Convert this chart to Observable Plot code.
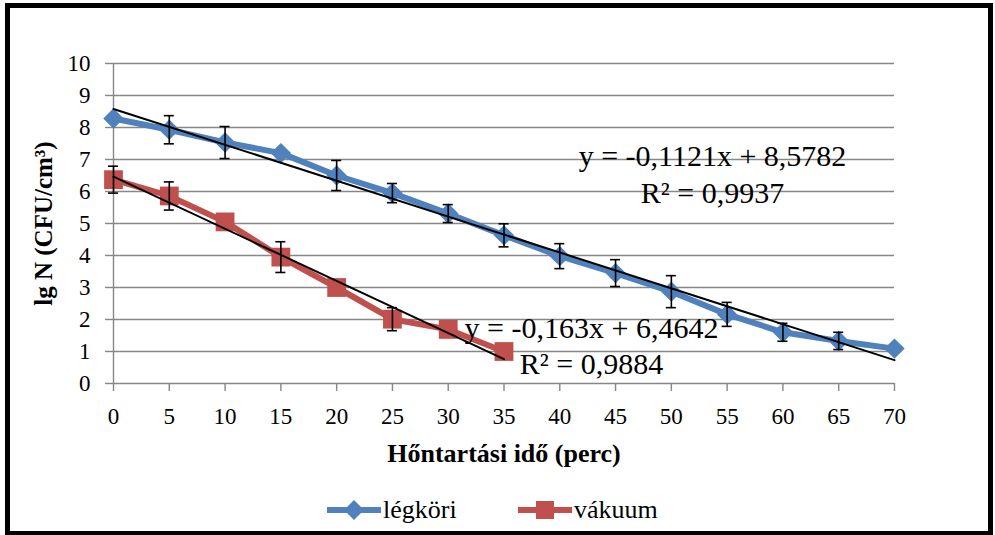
<!DOCTYPE html>
<html>
<head>
<meta charset="utf-8">
<script src="https://cdn.jsdelivr.net/npm/d3@7"></script>
<script src="https://cdn.jsdelivr.net/npm/@observablehq/plot@0.6"></script>
<style>
  html, body { margin: 0; padding: 0; background: #fff; }
  #wrap { position: relative; width: 995px; height: 535px; overflow: hidden; font-family: "Liberation Serif", serif; }
  #chart { position: absolute; left: 0; top: 0; }
  #chart svg, #chart svg text { font-family: "Liberation Serif", serif; }
  #frame { position: absolute; left: 5px; top: 3px; width: 988px; height: 532px; box-sizing: border-box;
           border: 5px solid #000; border-bottom-width: 4px; pointer-events: none; }
  #inner { position: absolute; left: 10px; top: 8px; width: 979px; height: 524px; box-sizing: border-box;
           border-right: 1px solid #b0b0b0; border-bottom: 1px solid #b0b0b0; pointer-events: none; }
  #legend { position: absolute; left: 0; top: 496px; width: 995px; height: 28px; }
  .item { position: absolute; top: 0; height: 28px; display: flex; align-items: center; }
  .item span { font-family: "Liberation Serif", serif; font-size: 26px; color: #000; margin-left: 2px; line-height: 28px; }
</style>
</head>
<body>
<div id="wrap">
  <div id="chart"></div>
  <div id="legend"></div>
  <div id="inner"></div>
  <div id="frame"></div>
</div>
<script>
// ---- data ----
const seriesNames = ["légköri", "vákuum"];
const seriesColors = ["#4F81BD", "#C0504D"];

const legkoriTimes = [0, 5, 10, 15, 20, 25, 30, 35, 40, 45, 50, 55, 60, 65, 70];
const legkoriValues = [8.28, 7.93, 7.53, 7.2, 6.5, 5.95, 5.31, 4.63, 3.98, 3.45, 2.87, 2.16, 1.6, 1.33, 1.09];
const legkoriErrors = [0, 0.44, 0.5, 0, 0.47, 0.3, 0.28, 0.36, 0.39, 0.42, 0.5, 0.375, 0.28, 0.27, 0];

const vakuumTimes = [0, 5, 10, 15, 20, 25, 30, 35];
const vakuumValues = [6.37, 5.86, 5.05, 3.95, 3.0, 2.01, 1.69, 1.0];
const vakuumErrors = [0.42, 0.44, 0, 0.48, 0, 0.36, 0, 0];

const trendSlopes = [-0.1121, -0.163];
const trendIntercepts = [8.5782, 6.4642];
const trendEquations = ["y = -0,1121x + 8,5782", "y = -0,163x + 6,4642"];
const trendR2 = ["R² = 0,9937", "R² = 0,9884"];

const xTicks = [0, 5, 10, 15, 20, 25, 30, 35, 40, 45, 50, 55, 60, 65, 70];
const yTicks = [0, 1, 2, 3, 4, 5, 6, 7, 8, 9, 10];
const xTitle = "Hőntartási idő (perc)";
const yTitle = "lg N (CFU/cm³)";

// ---- tables built from the arrays ----
const rows = [
  ...legkoriTimes.map((t, i) => ({series: seriesNames[0], t, v: legkoriValues[i], e: legkoriErrors[i]})),
  ...vakuumTimes.map((t, i) => ({series: seriesNames[1], t, v: vakuumValues[i], e: vakuumErrors[i]}))
];
const errRows = rows.filter(d => d.e > 0);
const seriesTimes = [legkoriTimes, vakuumTimes];
const trendRows = seriesNames.flatMap((s, k) => {
  const [t0, t1] = d3.extent(seriesTimes[k]);
  return [t0, t1].map(t => ({series: s, t, v: trendIntercepts[k] + trendSlopes[k] * t}));
});

const gray = "#878787";
const capHalf = 0.45; // half width of error caps in x units
const font = '"Liberation Serif", serif';

const plot = Plot.plot({
  width: 995,
  height: 470,
  marginLeft: 113,
  marginRight: 101,
  marginTop: 63,
  marginBottom: 87,
  style: {fontFamily: font, fontSize: "23px", color: "#000", background: "transparent"},
  x: {domain: [0, 70]},
  y: {domain: [0, 10]},
  color: {domain: seriesNames, range: seriesColors},
  marks: [
    Plot.gridY(yTicks, {stroke: gray, strokeOpacity: 1, strokeWidth: 1.4}),
    Plot.ruleX([0], {stroke: gray, strokeWidth: 1.4}),
    Plot.axisX(xTicks, {tickSize: 8, tickPadding: 16, stroke: gray, strokeWidth: 1.4, label: null, fontFamily: font}),
    Plot.axisY(yTicks, {tickSize: 8, tickPadding: 15, stroke: gray, strokeWidth: 1.4, label: null, fontFamily: font}),
    Plot.line(rows, {x: "t", y: "v", z: "series", stroke: "series", strokeWidth: 6, curve: "linear"}),
    Plot.dot(rows.filter(d => d.series === seriesNames[0]), {x: "t", y: "v", symbol: "diamond2", r: 9.2, fill: seriesColors[0], stroke: "none"}),
    Plot.dot(rows.filter(d => d.series === seriesNames[1]), {x: "t", y: "v", symbol: "square", r: 10.6, fill: seriesColors[1], stroke: "none"}),
    Plot.ruleX(errRows, {x: "t", y1: d => d.v - d.e, y2: d => d.v + d.e, stroke: "#000", strokeWidth: 1.6}),
    Plot.ruleY(errRows, {y: d => d.v - d.e, x1: d => d.t - capHalf, x2: d => d.t + capHalf, stroke: "#000", strokeWidth: 1.6}),
    Plot.ruleY(errRows, {y: d => d.v + d.e, x1: d => d.t - capHalf, x2: d => d.t + capHalf, stroke: "#000", strokeWidth: 1.6}),
    Plot.line(trendRows, {x: "t", y: "v", z: "series", stroke: "#000", strokeWidth: 2}),
    Plot.text([trendEquations[0] + "\n" + trendR2[0]], {frameAnchor: "top-left", dx: 599, dy: 139, textAnchor: "middle", lineAnchor: "bottom", lineHeight: 1.23, fontSize: 30, fontFamily: font, fill: "#000"}),
    Plot.text([trendEquations[1] + "\n" + trendR2[1]], {frameAnchor: "top-left", dx: 478, dy: 310, textAnchor: "middle", lineAnchor: "bottom", lineHeight: 1.2, fontSize: 30, fontFamily: font, fill: "#000"}),
    Plot.text([xTitle], {frameAnchor: "bottom", dy: 70, textAnchor: "middle", lineAnchor: "middle", fontWeight: "bold", fontSize: 26, fontFamily: font, fill: "#000"}),
    Plot.text([yTitle], {frameAnchor: "left", dx: -70, rotate: -90, textAnchor: "middle", lineAnchor: "middle", fontWeight: "bold", fontSize: 25, fontFamily: font, fill: "#000"})
  ]
});
document.getElementById("chart").appendChild(plot);

// ---- legend (HTML below the svg) ----
const legendLeft = [327, 518];
const legend = document.getElementById("legend");
seriesNames.forEach((name, k) => {
  const item = document.createElement("div");
  item.className = "item";
  item.style.left = legendLeft[k] + "px";
  const svg = d3.create("svg").attr("width", 54).attr("height", 28);
  svg.append("line").attr("x1", 1).attr("x2", 53).attr("y1", 14).attr("y2", 14)
    .attr("stroke", seriesColors[k]).attr("stroke-width", 6).attr("stroke-linecap", "round");
  if (k === 0) {
    svg.append("path").attr("d", "M27,4 L37,14 L27,24 L17,14 Z").attr("fill", seriesColors[k]);
  } else {
    svg.append("rect").attr("x", 18).attr("y", 5).attr("width", 18).attr("height", 18).attr("fill", seriesColors[k]);
  }
  item.appendChild(svg.node());
  const span = document.createElement("span");
  span.textContent = name;
  item.appendChild(span);
  legend.appendChild(item);
});
</script>
</body>
</html>
